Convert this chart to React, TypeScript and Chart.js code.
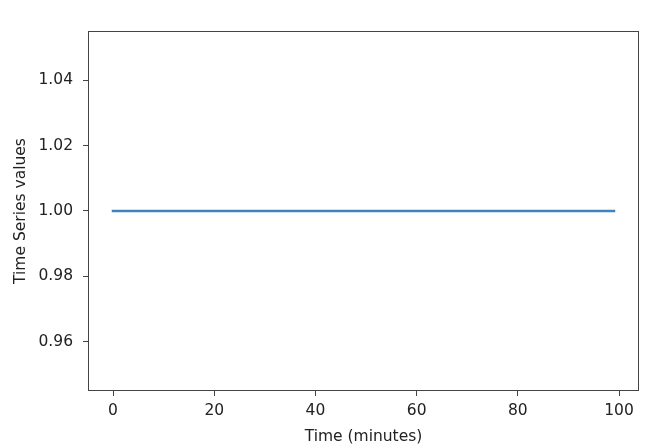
import React, { useEffect, useRef } from "react";
import { Chart, registerables } from "chart.js";

Chart.register(...registerables);

const minutes: number[] = [
  0, 1, 2, 3, 4, 5, 6, 7, 8, 9,
  10, 11, 12, 13, 14, 15, 16, 17, 18, 19,
  20, 21, 22, 23, 24, 25, 26, 27, 28, 29,
  30, 31, 32, 33, 34, 35, 36, 37, 38, 39,
  40, 41, 42, 43, 44, 45, 46, 47, 48, 49,
  50, 51, 52, 53, 54, 55, 56, 57, 58, 59,
  60, 61, 62, 63, 64, 65, 66, 67, 68, 69,
  70, 71, 72, 73, 74, 75, 76, 77, 78, 79,
  80, 81, 82, 83, 84, 85, 86, 87, 88, 89,
  90, 91, 92, 93, 94, 95, 96, 97, 98, 99,
];

const seriesValues: number[] = [
  1, 1, 1, 1, 1, 1, 1, 1, 1, 1,
  1, 1, 1, 1, 1, 1, 1, 1, 1, 1,
  1, 1, 1, 1, 1, 1, 1, 1, 1, 1,
  1, 1, 1, 1, 1, 1, 1, 1, 1, 1,
  1, 1, 1, 1, 1, 1, 1, 1, 1, 1,
  1, 1, 1, 1, 1, 1, 1, 1, 1, 1,
  1, 1, 1, 1, 1, 1, 1, 1, 1, 1,
  1, 1, 1, 1, 1, 1, 1, 1, 1, 1,
  1, 1, 1, 1, 1, 1, 1, 1, 1, 1,
  1, 1, 1, 1, 1, 1, 1, 1, 1, 1,
];

const xTicks: number[] = [0, 20, 40, 60, 80, 100];
const yTicks: number[] = [0.96, 0.98, 1.0, 1.02, 1.04];

const FONT = "'DejaVu Sans', sans-serif";
const FONT_SIZE = 15.5;
const TEXT = "#222222";
const AXIS = "#444444";

const framePlugin = {
  id: "frame",
  afterDraw(chart: any) {
    const { ctx, chartArea } = chart;
    ctx.save();
    ctx.strokeStyle = AXIS;
    ctx.lineWidth = 1;
    ctx.strokeRect(
      Math.round(chartArea.left) + 0.5,
      Math.round(chartArea.top) + 0.5,
      Math.round(chartArea.right - chartArea.left) - 1,
      Math.round(chartArea.bottom - chartArea.top) - 1
    );
    ctx.restore();
  },
};

export default function App() {
  const ref = useRef<HTMLCanvasElement | null>(null);

  useEffect(() => {
    if (!ref.current) return;
    const chart = new Chart(ref.current, {
      type: "line",
      data: {
        datasets: [
          {
            data: minutes.map((m, i) => ({ x: m, y: seriesValues[i] })),
            borderColor: "#4083ba",
            borderWidth: 2.6,
            borderCapStyle: "square",
            pointRadius: 0,
            tension: 0,
            fill: false,
          },
        ],
      },
      options: {
        responsive: false,
        animation: false,
        layout: { padding: { top: 31, right: 31, left: 0, bottom: 0 } },
        plugins: {
          legend: { display: false },
          tooltip: { enabled: false },
        },
        scales: {
          x: {
            type: "linear",
            min: -4.95,
            max: 103.95,
            afterBuildTicks: (scale: any) => {
              scale.ticks = xTicks.map((v) => ({ value: v }));
            },
            afterFit: (scale: any) => {
              scale.height = 57;
            },
            grid: {
              drawOnChartArea: false,
              drawTicks: true,
              tickLength: 5,
              tickColor: AXIS,
              tickWidth: 1,
            },
            border: { display: false },
            ticks: {
              color: TEXT,
              font: { family: FONT, size: FONT_SIZE },
              padding: 6,
              maxRotation: 0,
              callback: (v: any) => String(v),
            },
            title: {
              display: true,
              text: "Time (minutes)",
              color: TEXT,
              font: { family: FONT, size: FONT_SIZE },
              padding: { top: 0, bottom: 2 },
            },
          },
          y: {
            type: "linear",
            min: 0.945,
            max: 1.055,
            afterBuildTicks: (scale: any) => {
              scale.ticks = yTicks.map((v) => ({ value: v }));
            },
            afterFit: (scale: any) => {
              scale.width = 88;
            },
            grid: {
              drawOnChartArea: false,
              drawTicks: true,
              tickLength: 5,
              tickColor: AXIS,
              tickWidth: 1,
            },
            border: { display: false },
            ticks: {
              color: TEXT,
              font: { family: FONT, size: FONT_SIZE },
              padding: 10,
              callback: (v: any) => Number(v).toFixed(2),
            },
            title: {
              display: true,
              text: "Time Series values",
              color: TEXT,
              font: { family: FONT, size: FONT_SIZE },
              padding: { top: 12, bottom: 0 },
            },
          },
        },
      },
      plugins: [framePlugin],
    });
    return () => chart.destroy();
  }, []);

  return (
    <div style={{ position: "fixed", left: 0, top: 0, width: 670, height: 448, background: "#ffffff" }}>
      <canvas ref={ref} width={670} height={448} />
    </div>
  );
}
